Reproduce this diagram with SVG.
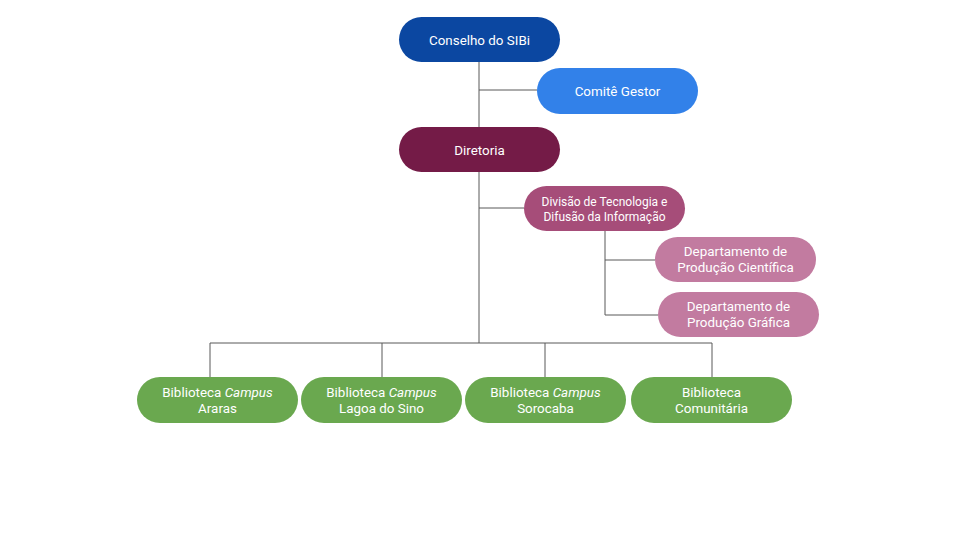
<svg xmlns="http://www.w3.org/2000/svg" width="960" height="540" viewBox="0 0 960 540">
<style>
text{font-family:Roboto,"Liberation Sans",sans-serif;font-size:13.4px;fill:#ffffff;text-anchor:middle}
.c{fill:none;stroke:#595959;stroke-width:1}
</style>
<rect width="960" height="540" fill="#ffffff"/>
<g id="connectors">
<path class="c" d="M479 62V343"/>
<path class="c" d="M479 90H537"/>
<path class="c" d="M479 208H524"/>
<path class="c" d="M605 231V315H658"/>
<path class="c" d="M605 260H655"/>
<path class="c" d="M210 377V343H712V377"/>
<path class="c" d="M382 343V377"/>
<path class="c" d="M545 343V377"/>
</g>
<g id="conselho"><rect x="399" y="17" width="161" height="45" rx="22.5" fill="#0b47a1"/><text x="479.5" y="44.5">Conselho do SIBi</text></g>
<g id="comite"><rect x="537" y="68" width="161" height="46" rx="23" fill="#3281e9"/><text x="617.5" y="96">Comitê Gestor</text></g>
<g id="diretoria"><rect x="399" y="127" width="161" height="45" rx="22.5" fill="#741b47"/><text x="479.5" y="154.5">Diretoria</text></g>
<g id="divisao"><rect x="524" y="186" width="161" height="45" rx="22.5" fill="#a64d79"/><text x="604.5" y="206" style="font-size:12px">Divisão de Tecnologia e</text><text x="604.5" y="221" style="font-size:12px">Difusão da Informação</text></g>
<g id="dep-cientifica"><rect x="655" y="237" width="161" height="45" rx="22.5" fill="#c27ba0"/><text x="735.5" y="256">Departamento de</text><text x="735.5" y="272">Produção Científica</text></g>
<g id="dep-grafica"><rect x="658" y="292" width="161" height="45" rx="22.5" fill="#c27ba0"/><text x="738.5" y="311">Departamento de</text><text x="738.5" y="327">Produção Gráfica</text></g>
<g id="bib-araras"><rect x="137" y="377" width="161" height="46" rx="23" fill="#6aa84f"/><text x="217.5" y="397">Biblioteca <tspan font-style="italic">Campus</tspan></text><text x="217.5" y="413">Araras</text></g>
<g id="bib-lagoa"><rect x="301" y="377" width="161" height="46" rx="23" fill="#6aa84f"/><text x="381.5" y="397">Biblioteca <tspan font-style="italic">Campus</tspan></text><text x="381.5" y="413">Lagoa do Sino</text></g>
<g id="bib-sorocaba"><rect x="465" y="377" width="161" height="46" rx="23" fill="#6aa84f"/><text x="545.5" y="397">Biblioteca <tspan font-style="italic">Campus</tspan></text><text x="545.5" y="413">Sorocaba</text></g>
<g id="bib-comunitaria"><rect x="631" y="377" width="161" height="46" rx="23" fill="#6aa84f"/><text x="711.5" y="397">Biblioteca</text><text x="711.5" y="413">Comunitária</text></g>
</svg>
